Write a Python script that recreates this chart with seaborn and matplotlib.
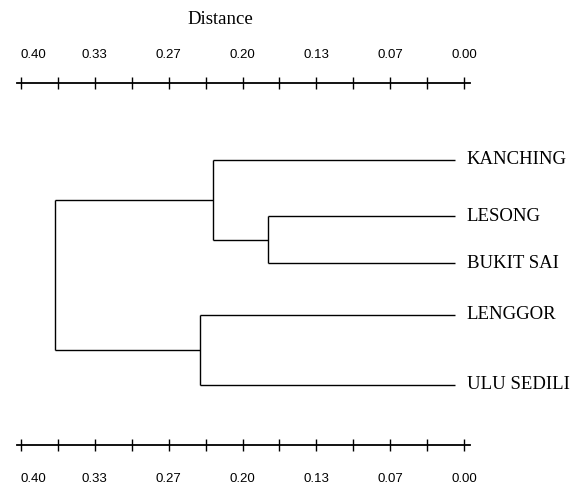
import matplotlib
matplotlib.use("Agg")
import matplotlib.pyplot as plt
import matplotlib.transforms as mtransforms
import seaborn as sns

# ---- data ----
leaves = ["KANCHING", "LESONG", "BUKIT SAI", "LENGGOR", "ULU SEDILI"]
leaf_rows = [0, 1.2, 2.2, 3.3, 4.8]          # vertical order/spacing of leaves
# merges: (member a, member b, distance); ids >= 5 refer to earlier merges
merges = [(1, 2, 0.177), (0, 5, 0.227), (3, 4, 0.238), (6, 7, 0.369)]
leaf_end = 0.008
tick_values = [0.40, 0.40 * 5 / 6, 0.40 * 4 / 6, 0.40 * 3 / 6, 0.40 * 2 / 6, 0.40 / 6, 0.0]
tick_labels = ["0.40", "0.33", "0.27", "0.20", "0.13", "0.07", "0.00"]

sns.set_theme(style="white")
plt.rcParams["font.family"] = ["Liberation Serif", "DejaVu Serif"]

fig = plt.figure(figsize=(5.83, 4.92), dpi=100)
W, H = 583, 492
ax = fig.add_axes([17 / W, 1 - 445 / H, (470 - 17) / W, (445 - 83) / H])

node_y = {i: r for i, r in enumerate(leaf_rows)}
node_x = {i: leaf_end for i in range(len(leaves))}
lc = "black"
lw = 1.0
for k, (a, b, d) in enumerate(merges):
    nid = len(leaves) + k
    ya, yb = node_y[a], node_y[b]
    ax.plot([node_x[a], d], [ya, ya], color=lc, lw=lw, solid_capstyle="butt")
    ax.plot([node_x[b], d], [yb, yb], color=lc, lw=lw, solid_capstyle="butt")
    ax.plot([d, d], [ya, yb], color=lc, lw=lw, solid_capstyle="butt")
    node_y[nid] = (ya + yb) / 2
    node_x[nid] = d

for i, name in enumerate(leaves):
    ax.annotate(name, xy=(0.0, leaf_rows[i]), xytext=(2, 0), textcoords="offset points",
                ha="left", va="center", fontsize=13.5, color="black", annotation_clip=False)

ax.set_xlim(0.4036, -0.0054)
ax.set_ylim(6.08, -1.64)

for s in ["left", "right"]:
    ax.spines[s].set_visible(False)
for s in ["top", "bottom"]:
    ax.spines[s].set_visible(True)
    ax.spines[s].set_color("black")
    ax.spines[s].set_linewidth(1.3)

ax.set_xticks(tick_values)
ax.set_xticklabels(tick_labels, fontfamily=["Liberation Sans", "DejaVu Sans"], fontsize=9.5,
                   color="black")
minor = [(tick_values[i] + tick_values[i + 1]) / 2 for i in range(len(tick_values) - 1)]
ax.set_xticks(minor, minor=True)
ax.tick_params(axis="x", which="both", direction="inout", length=9, width=1.0, color="black",
               top=True, bottom=True, labeltop=True, labelbottom=True)
ax.xaxis.set_tick_params(which="major", pad=16)
for t in ax.xaxis.get_major_ticks():
    t.label2.set_transform(t.label2.get_transform() + mtransforms.ScaledTranslation(0, -5 / 72, fig.dpi_scale_trans))
first = ax.xaxis.get_major_ticks()[0]
first.label1.set_horizontalalignment("left")
first.label2.set_horizontalalignment("left")
ax.set_yticks([])
ax.grid(False)

fig.text(220 / W, 1 - 20 / H, "Distance", ha="center", va="center", fontsize=13.5, color="black")

fig.savefig("out.png", dpi=100, facecolor="white")
